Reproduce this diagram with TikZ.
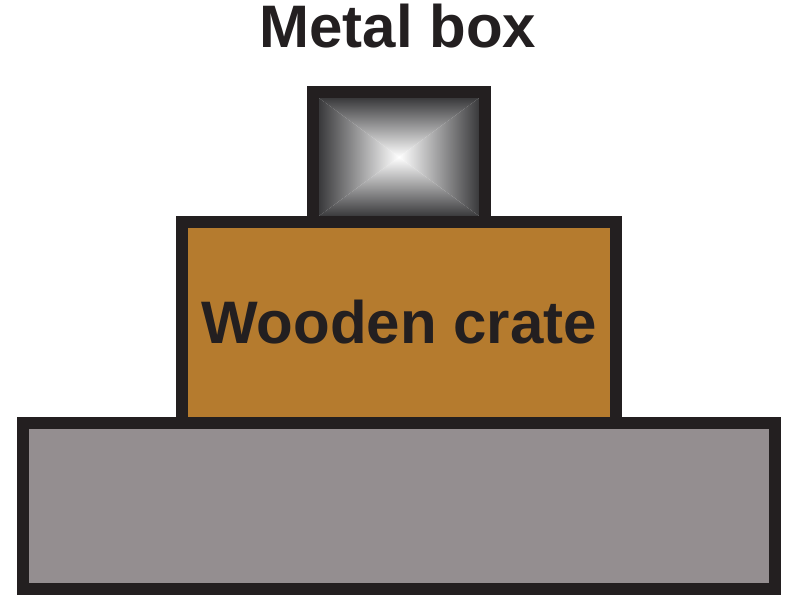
\documentclass[tikz,border=0pt]{standalone}
\usepackage{fontspec}
\setmainfont{Liberation Sans}
\definecolor{edge}{RGB}{35,31,32}
\definecolor{wood}{RGB}{181,123,46}
\definecolor{floor}{RGB}{148,142,144}
\definecolor{steel}{RGB}{58,58,60}
\begin{document}
\begin{tikzpicture}[x=1pt,y=-1pt,
    outline/.style={line width=12pt,draw=edge,line join=miter},
    bigtext/.style={anchor=base,text=edge,font=\fontsize{60}{72}\selectfont\bfseries,inner sep=0pt}]
            \useasboundingbox (0,0) rectangle (800,603);
            \draw[outline,fill=floor] (23,423) rectangle (775,589);
            \draw[outline,fill=wood] (182,222) rectangle (616,423);
            \coordinate (mid) at (399,157);
            \shade[top color=steel,bottom color=white] (319,98) -- (479,98) -- (mid) -- cycle;
            \shade[bottom color=steel,top color=white] (319,216) -- (479,216) -- (mid) -- cycle;
            \shade[left color=steel,right color=white] (319,98) -- (319,216) -- (mid) -- cycle;
            \shade[right color=steel,left color=white] (479,98) -- (479,216) -- (mid) -- cycle;
            \draw[outline] (313,92) rectangle (485,222);
            \node[bigtext] (crate) at (399,343) {Wooden crate};
            \node[bigtext] (title) at (398,47) {Metal box};
        \end{tikzpicture}
\end{document}
